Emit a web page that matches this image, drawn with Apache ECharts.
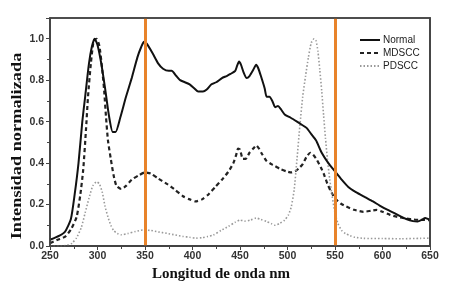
<!DOCTYPE html>
<html>
<head>
<meta charset="utf-8">
<script src="https://cdn.jsdelivr.net/npm/echarts@6/dist/echarts.min.js"></script>
<style>
  html, body { margin: 0; padding: 0; background: #fff; }
  #chart { width: 457px; height: 291px; }
</style>
</head>
<body>
<div id="chart"></div>
<script>
// wavelength (nm) / normalized intensity
const normalX = [250, 260, 266, 272, 276, 280, 284, 287, 291, 294, 297, 300, 304, 308, 312, 316, 319, 324, 330, 336, 342, 346, 349, 352, 358, 364, 369, 375, 378, 383, 387, 392, 397, 402, 406, 411, 415, 420, 425, 431, 436, 440, 445, 447, 449, 451, 454, 457, 460, 464, 467, 469, 472, 476, 478, 481, 484, 487, 490, 493, 497, 503, 510, 515, 520, 525, 530, 536, 543, 550, 557, 564, 572, 582, 590, 597, 605, 612, 618, 625, 632, 637, 641, 645, 648, 650];
const normalY = [0.03, 0.05, 0.07, 0.13, 0.25, 0.40, 0.60, 0.72, 0.88, 0.96, 1.0, 0.97, 0.88, 0.76, 0.63, 0.55, 0.55, 0.62, 0.72, 0.81, 0.91, 0.96, 0.985, 0.975, 0.93, 0.88, 0.855, 0.845, 0.845, 0.82, 0.80, 0.79, 0.78, 0.76, 0.745, 0.745, 0.755, 0.78, 0.79, 0.81, 0.82, 0.83, 0.845, 0.87, 0.89, 0.875, 0.835, 0.81, 0.82, 0.85, 0.875, 0.86, 0.82, 0.76, 0.72, 0.72, 0.70, 0.67, 0.675, 0.66, 0.635, 0.62, 0.60, 0.585, 0.57, 0.54, 0.51, 0.45, 0.40, 0.36, 0.32, 0.285, 0.26, 0.235, 0.215, 0.195, 0.175, 0.16, 0.145, 0.13, 0.12, 0.118, 0.125, 0.135, 0.13, 0.128];

const mdsccX = [250, 258, 266, 272, 278, 282, 285, 288, 290, 293, 296, 299, 302, 305, 307, 309, 311, 314, 317, 320, 325, 330, 336, 343, 350, 356, 364, 373, 382, 390, 397, 403, 410, 417, 424, 431, 438, 443, 446, 448, 450, 453, 456, 460, 464, 467, 470, 473, 478, 483, 487, 493, 499, 504, 508, 512, 516, 520, 524, 527, 531, 535, 538, 542, 545, 550, 556, 562, 570, 580, 588, 594, 600, 608, 616, 625, 633, 640, 650];
const mdsccY = [0.013, 0.03, 0.045, 0.08, 0.14, 0.25, 0.37, 0.57, 0.72, 0.88, 0.99, 1.0, 0.965, 0.85, 0.75, 0.62, 0.51, 0.42, 0.34, 0.29, 0.275, 0.29, 0.32, 0.34, 0.355, 0.35, 0.325, 0.30, 0.27, 0.24, 0.225, 0.215, 0.225, 0.25, 0.285, 0.32, 0.36, 0.40, 0.44, 0.47, 0.465, 0.42, 0.42, 0.45, 0.47, 0.485, 0.47, 0.445, 0.41, 0.395, 0.385, 0.37, 0.36, 0.355, 0.36, 0.375, 0.395, 0.43, 0.45, 0.44, 0.415, 0.38, 0.35, 0.30, 0.27, 0.23, 0.205, 0.19, 0.175, 0.165, 0.17, 0.174, 0.165, 0.15, 0.14, 0.133, 0.128, 0.126, 0.125];

const pdsccX = [250, 260, 268, 273, 278, 283, 287, 291, 295, 299, 302, 305, 308, 311, 314, 317, 321, 325, 332, 340, 348, 356, 364, 373, 382, 390, 397, 404, 410, 416, 422, 430, 438, 445, 450, 455, 461, 467, 472, 478, 483, 487, 492, 497, 501, 504, 507, 510, 513, 516, 519, 522, 525, 528, 530, 532, 534, 536, 538, 540, 542, 544.5, 547, 550, 553, 557, 561, 566, 571, 580, 600, 620, 640, 650];
const pdsccY = [0.0, 0.0, 0.003, 0.013, 0.04, 0.09, 0.16, 0.23, 0.29, 0.31, 0.30, 0.26, 0.19, 0.14, 0.10, 0.075, 0.06, 0.054, 0.06, 0.07, 0.077, 0.075, 0.068, 0.061, 0.053, 0.046, 0.042, 0.038, 0.04, 0.046, 0.053, 0.075, 0.095, 0.115, 0.125, 0.12, 0.125, 0.135, 0.128, 0.118, 0.108, 0.10, 0.11, 0.125, 0.15, 0.19, 0.27, 0.42, 0.58, 0.72, 0.82, 0.91, 0.98, 1.0, 0.99, 0.94, 0.85, 0.75, 0.63, 0.52, 0.42, 0.32, 0.24, 0.16, 0.11, 0.075, 0.06, 0.05, 0.042, 0.037, 0.036, 0.035, 0.037, 0.038];

const markers = [350, 550];

const zip = (xs, ys) => xs.map((x, i) => [x, ys[i]]);

const chart = echarts.init(document.getElementById('chart'));

const frame = () => ({ show: true, lineStyle: { color: '#444', width: 1.5 } });
const ticks = (inside) => ({ show: true, inside: inside, length: 4, lineStyle: { color: '#444' } });
const minor = () => ({ show: true, splitNumber: 2, length: 3, lineStyle: { color: '#444' } });
const labelStyle = () => ({ color: '#333', fontSize: 10.5, fontWeight: 'bold', fontFamily: 'Liberation Sans' });

chart.setOption({
  animation: false,
  grid: { left: 50, right: 27, top: 18, bottom: 45, show: true, borderColor: '#444', borderWidth: 1.5 },
  legend: {
    orient: 'vertical',
    left: 359,
    top: 35,
    itemWidth: 20,
    itemHeight: 8,
    itemGap: 3,
    padding: 0,
    itemStyle: { opacity: 0 },
    textStyle: { fontSize: 10, color: '#222', fontFamily: 'Liberation Sans', padding: [0, 0, 0, -2] },
    data: ['Normal', 'MDSCC', 'PDSCC']
  },
  xAxis: [
    {
      type: 'value', min: 250, max: 650, interval: 50, position: 'bottom',
      axisLine: frame(), axisTick: ticks(false), minorTick: minor(),
      axisLabel: Object.assign({ margin: 5 }, labelStyle()),
      splitLine: { show: false }
    },
    {
      type: 'value', min: 250, max: 650, interval: 50, position: 'top',
      axisLine: frame(), axisTick: ticks(true), minorTick: minor(),
      axisLabel: { show: false },
      splitLine: { show: false }
    }
  ],
  yAxis: [
    {
      type: 'value', min: 0, max: 1.1, interval: 0.2, position: 'left',
      axisLine: frame(), axisTick: ticks(false), minorTick: minor(),
      axisLabel: Object.assign({ margin: 6, showMaxLabel: false, formatter: v => v.toFixed(1) }, labelStyle()),
      splitLine: { show: false }
    },
    {
      type: 'value', min: 0, max: 1.1, interval: 0.2, position: 'right',
      axisLine: frame(), axisTick: { show: false },
      axisLabel: { show: false },
      splitLine: { show: false }
    }
  ],
  graphic: [
    {
      // plot frame, drawn over everything
      type: 'rect', z: 100, silent: true,
      shape: { x: 50, y: 18, width: 380, height: 228 },
      style: { fill: 'none', stroke: '#444', lineWidth: 1.5 }
    },
    {
      type: 'text', x: 221, y: 274,
      style: { text: 'Longitud de onda nm', font: 'bold 15px "Liberation Serif"', fill: '#111', align: 'center', verticalAlign: 'middle' }
    },
    {
      type: 'text', x: 17, y: 146, rotation: Math.PI / 2, scaleX: 1.22,
      style: { text: 'Intensidad normalizada', font: 'bold 15px "Liberation Serif"', fill: '#111', align: 'center', verticalAlign: 'middle' }
    }
  ],
  series: [
    {
      name: 'Normal', type: 'line', data: zip(normalX, normalY),
      smooth: 0.2, symbol: 'none', z: 3,
      lineStyle: { color: '#111', width: 2 }, itemStyle: { color: '#111' }
    },
    {
      name: 'MDSCC', type: 'line', data: zip(mdsccX, mdsccY),
      smooth: 0.2, symbol: 'none', z: 2,
      lineStyle: { color: '#222', width: 2.2, type: [4, 3] }, itemStyle: { color: '#222' }
    },
    {
      name: 'PDSCC', type: 'line', data: zip(pdsccX, pdsccY),
      smooth: 0.2, symbol: 'none', z: 2,
      lineStyle: { color: '#999', width: 1.6, type: [1.5, 2] }, itemStyle: { color: '#999' },
      markLine: {
        silent: true, symbol: ['none', 'none'], label: { show: false },
        lineStyle: { color: '#E8832A', width: 3, type: 'solid' },
        data: markers.map(m => ({ xAxis: m }))
      }
    }
  ]
});
</script>
</body>
</html>
